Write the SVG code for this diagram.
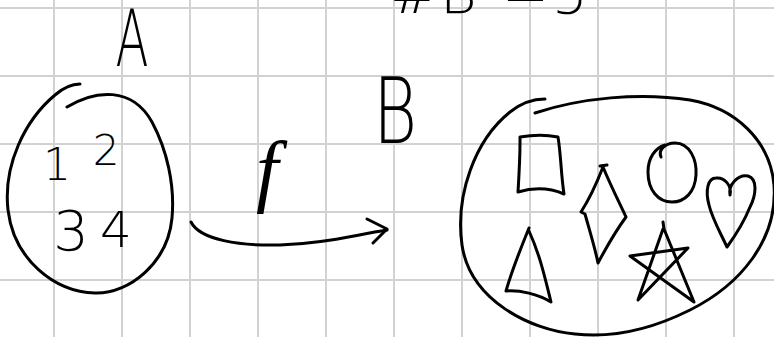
<svg xmlns="http://www.w3.org/2000/svg" width="774" height="337" viewBox="0 0 774 337">
<style>
.grid line{stroke:#d2d2d2;stroke-width:2}
.ink{fill:none;stroke:#000;stroke-width:3;stroke-linecap:round;stroke-linejoin:round}
.hand{font-family:"DejaVu Sans","Liberation Sans",sans-serif;font-weight:200;fill:#000}
.script{font-family:"Liberation Serif",serif;font-style:italic;fill:#000}
</style>
<rect width="774" height="337" fill="#fff"/>
<g class="grid" id="grid">
<line x1="54" y1="0" x2="54" y2="337"/><line x1="122" y1="0" x2="122" y2="337"/><line x1="190" y1="0" x2="190" y2="337"/><line x1="258" y1="0" x2="258" y2="337"/><line x1="326" y1="0" x2="326" y2="337"/><line x1="394" y1="0" x2="394" y2="337"/><line x1="462" y1="0" x2="462" y2="337"/><line x1="530" y1="0" x2="530" y2="337"/><line x1="598" y1="0" x2="598" y2="337"/><line x1="666" y1="0" x2="666" y2="337"/><line x1="734" y1="0" x2="734" y2="337"/>
<line x1="0" y1="8" x2="774" y2="8"/><line x1="0" y1="76" x2="774" y2="76"/><line x1="0" y1="144" x2="774" y2="144"/><line x1="0" y1="212" x2="774" y2="212"/><line x1="0" y1="280" x2="774" y2="280"/>
</g>
<g id="title">
<text class="hand" font-size="56" y="13"><tspan x="390">#</tspan><tspan x="440">B</tspan><tspan x="502">=</tspan><tspan x="552">5</tspan></text>
</g>
<g id="node-A">
<path class="ink" d="M67,107 C95,90 132,86 152,122 C167,150 175,185 172,218 C168,262 130,294 95,293 C55,292 14,260 8,210 C3,165 25,120 55,95 C63,88 72,84 80,84"/>
<text class="hand" font-size="78" transform="translate(132,66) scale(0.62,1)" text-anchor="middle">A</text>
<text class="hand" font-size="44" x="57" y="180" text-anchor="middle">1</text>
<text class="hand" font-size="42" x="106" y="165" text-anchor="middle">2</text>
<text class="hand" font-size="56" x="71" y="250" text-anchor="middle">3</text>
<text class="hand" font-size="50" x="116" y="247" text-anchor="middle">4</text>
</g>
<g id="node-B">
<path class="ink" d="M535,113 C580,98 640,92 690,100 C735,108 770,140 774,185 C778,240 740,285 690,310 C650,330 610,338 575,334 C530,330 470,300 462,245 C455,195 475,140 510,112 C520,104 532,99 545,99"/>
<text class="hand" font-size="90" transform="translate(395,143) scale(0.75,1)" text-anchor="middle">B</text>
<path class="ink" d="M520,142 L520,137 C532,135 548,135 558,137 C561,155 561,175 564,194 C550,188 535,187 518,192 C519,175 520,160 520,142"/>
<path class="ink" d="M600,166 L607,165 M603,167 C596,185 590,198 581,212 L585,214 C590,232 595,248 598,263 C606,248 615,232 626,217 C618,200 610,184 603,167"/>
<path class="ink" d="M661,157 C658,150 665,143 675,143 C690,143 697,160 696,175 C695,192 685,202 672,202 C658,202 648,190 648,172 C648,158 655,148 665,145"/>
<path class="ink" d="M730,195 C728,185 738,174 748,176 C758,179 756,195 750,207 C744,222 735,236 727,247 C720,232 712,218 709,205 C705,190 708,178 716,178 C724,177 732,185 730,195"/>
<path class="ink" d="M529,228 C520,250 512,270 506,291 C520,290 538,294 551,302 C545,278 540,255 529,231"/>
<path class="ink" d="M663,222 L664,229 L694,302 L630,256 L688,248 L638,300 L663,229"/>
</g>
<g id="connectors">
<path class="ink" d="M191,222 C200,240 240,246 280,245 C320,244 350,236 387,230"/>
<path class="ink" d="M367,219 L387,229 L373,243"/>
<text class="script" font-size="80" x="256" y="197">f</text>
</g>
</svg>
